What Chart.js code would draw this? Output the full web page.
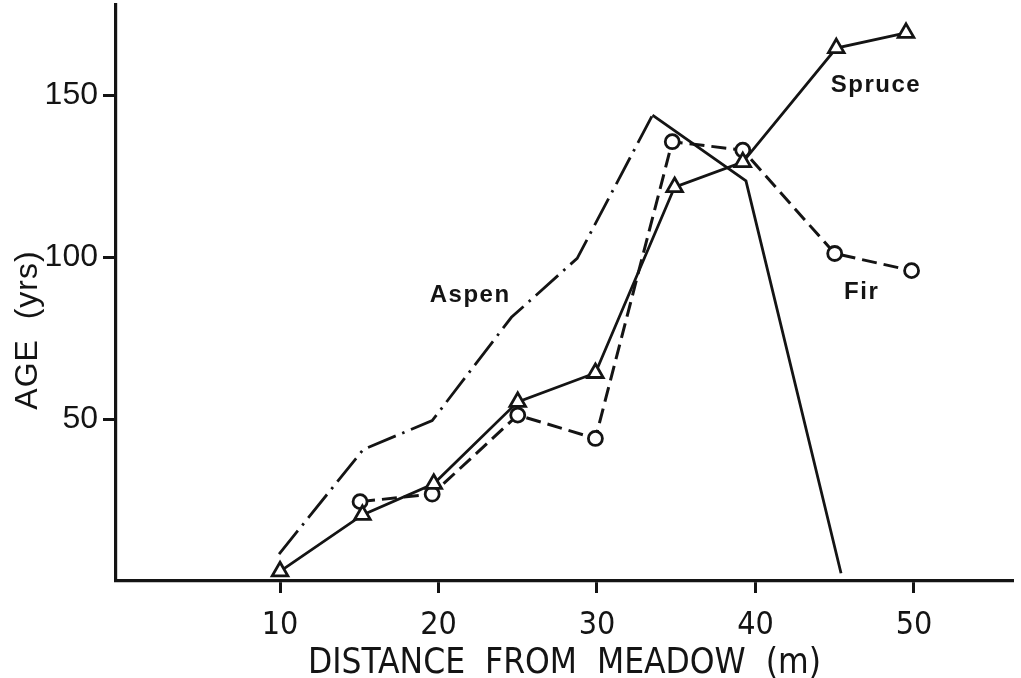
<!DOCTYPE html>
<html>
<head>
<meta charset="utf-8">
<script src="https://cdn.jsdelivr.net/npm/chart.js@4/dist/chart.umd.min.js"></script>
<style>
html,body{margin:0;padding:0;background:#fff;}
#wrap{width:1021px;height:678px;position:relative;}
</style>
</head>
<body>
<div id="wrap"><canvas id="c"></canvas></div>
<script>
// ===== DATA =====
const xTicks=[10,20,30,40,50];
const yTicks=[50,100,150];

const spruceX=[10,15.2,19.7,25,29.9,34.9,39.2,45.1,49.5];
const spruceY=[3,20.4,30,55.3,64.2,121.6,129.3,164.5,169.2];

const firX=[15.05,19.6,25,29.9,34.75,39.2,45,49.85];
const firY=[24.5,26.8,51.2,44,135.6,133,101.1,95.8];

const aspenX=[9.94,15.25,19.6,24.6,28.75,33.5,39.4,45.4];
const aspenY=[8.3,40.6,49.5,81.4,99.6,143.8,123.5,2.4];

// label text and where it sits (data units)
const labels=[
 {t:"Aspen",x:22.0,y:88.3},
 {t:"Spruce",x:47.6,y:153},
 {t:"Fir",x:46.7,y:89}
];

const pts=(xs,ys)=>xs.map((x,i)=>({x:x,y:ys[i]}));
const INK="#141414";

// ===== PLUGIN: texts =====
const textos={
 id:"textos",
 afterDraw(chart){
  const c=chart.ctx,sx=chart.scales.x,sy=chart.scales.y;
  c.save();
  c.fillStyle=INK;
  c.textAlign="center";
  c.textBaseline="middle";
  c.font="bold 24px 'Liberation Sans'";
  c.letterSpacing="1.5px";
  labels.forEach(l=>c.fillText(l.t,sx.getPixelForValue(l.x),sy.getPixelForValue(l.y)));
  // y title
  c.translate(28,330);
  c.rotate(-Math.PI/2);
  c.font="32px 'Liberation Sans'";
  c.letterSpacing="1px";
  c.fillText("AGE  (yrs)",0,0);
  c.restore();
 }
};

// ===== CHART =====
new Chart(document.getElementById("c"),{
 type:"line",
 data:{datasets:[
  {label:"Spruce",data:pts(spruceX,spruceY),borderColor:INK,borderWidth:2.8,
   pointStyle:"triangle",pointRadius:9,pointBackgroundColor:"#fff",pointBorderColor:INK,pointBorderWidth:2.8,tension:0},
  {label:"Fir",data:pts(firX,firY),borderColor:INK,borderWidth:3,borderDash:[15,7],
   pointStyle:"circle",pointRadius:7,pointBackgroundColor:"#fff",pointBorderColor:INK,pointBorderWidth:2.8,tension:0},
  {label:"Aspen",data:pts(aspenX,aspenY),borderColor:INK,borderWidth:2.8,borderDash:[30,7,2.5,7],
   pointRadius:0,tension:0,
   segment:{borderDash:ctx=>ctx.p0DataIndex>=5?[]:undefined}}
 ]},
 options:{
  responsive:true,maintainAspectRatio:false,animation:false,
  layout:{autoPadding:false,padding:{top:5,right:8,left:0,bottom:0}},
  plugins:{legend:{display:false},tooltip:{enabled:false}},
  scales:{
   x:{type:"linear",min:-0.35,max:56.25,
    afterBuildTicks:s=>{s.ticks=xTicks.map(v=>({value:v}));},
    afterFit:s=>{s.height=97;s.paddingLeft=0;s.paddingRight=0;},
    grid:{drawOnChartArea:false,drawTicks:true,tickLength:12,tickWidth:3,tickColor:INK},
    border:{display:true,width:3.2,color:INK},
    ticks:{color:INK,padding:13,font:{family:"'DejaVu Sans Condensed','DejaVu Sans'",size:32}},
    title:{display:true,text:"DISTANCE  FROM  MEADOW  (m)",color:INK,padding:{top:0,bottom:0},
     font:{family:"'DejaVu Sans Condensed','DejaVu Sans'",size:35,lineHeight:0.8}}
   },
   y:{type:"linear",min:0,max:177.8,
    afterBuildTicks:s=>{s.ticks=yTicks.map(v=>({value:v}));},
    afterFit:s=>{s.width=116;s.paddingTop=0;s.paddingBottom=0;},
    grid:{drawOnChartArea:false,drawTicks:true,tickLength:13,tickWidth:3,tickColor:INK},
    border:{display:true,width:3.2,color:INK},
    ticks:{color:INK,padding:5,font:{family:"'Liberation Sans'",size:32}}
   }
  }
 },
 plugins:[textos]
});
</script>
</body>
</html>
